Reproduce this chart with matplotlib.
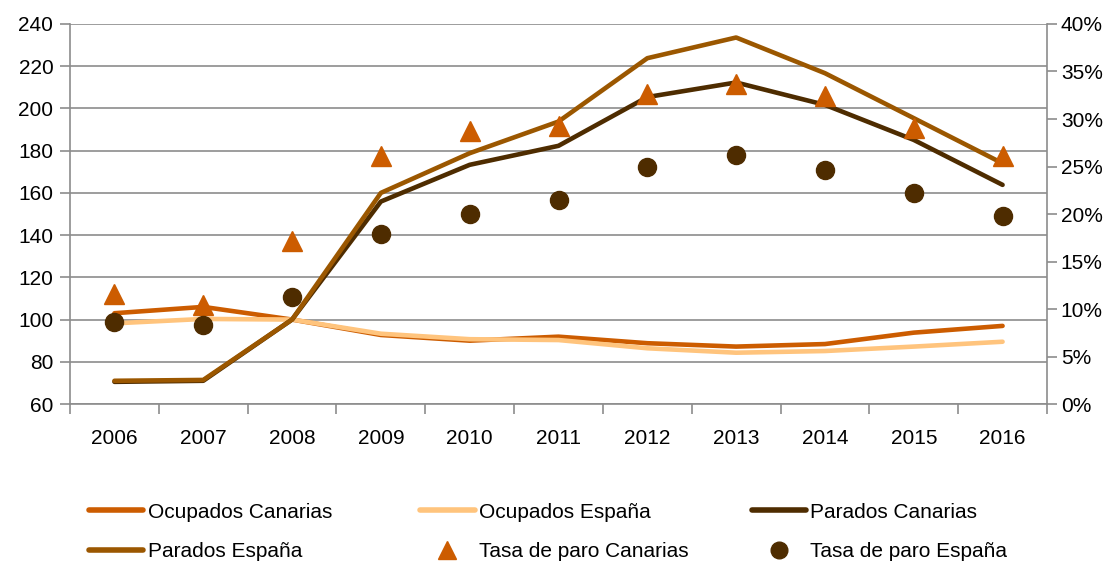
import matplotlib
matplotlib.use("Agg")
import matplotlib.pyplot as plt
from matplotlib.lines import Line2D
from matplotlib.ticker import FuncFormatter, MultipleLocator

plt.rcParams["font.family"] = ["Liberation Sans", "DejaVu Sans"]

years = ["2006", "2007", "2008", "2009", "2010", "2011",
         "2012", "2013", "2014", "2015", "2016"]

# indices, 2008 = 100
ocupados_canarias = [103.0, 106.0, 100.0, 92.7, 90.0, 91.9, 88.8, 87.2, 88.4, 93.8, 97.0]
ocupados_espana   = [98.2, 100.3, 100.0, 93.3, 90.7, 90.3, 86.4, 84.3, 85.1, 87.2, 89.5]
parados_canarias  = [70.5, 71.0, 100.0, 155.9, 173.3, 182.3, 205.4, 212.3, 201.7, 185.1, 163.8]
parados_espana    = [71.0, 71.4, 100.0, 160.0, 178.8, 193.8, 223.8, 233.6, 216.7, 195.4, 174.0]

# unemployment rate, %
tasa_canarias = [11.6, 10.4, 17.2, 26.1, 28.7, 29.3, 32.6, 33.7, 32.4, 29.1, 26.1]
tasa_espana   = [8.6, 8.3, 11.3, 17.9, 20.0, 21.5, 24.9, 26.2, 24.6, 22.2, 19.8]

C_OC = "#CC5C00"
C_OE = "#FFC47D"
C_PC = "#4E2C00"
C_PE = "#9B5700"
GRID = "#8C8C8C"
FS = 15

fig, ax = plt.subplots(figsize=(11.15, 5.66), dpi=100)
fig.subplots_adjust(left=0.0628, right=0.939, top=0.9576, bottom=0.2862)

x = range(len(years))
ax.plot(x, ocupados_canarias, color=C_OC, lw=3.3, solid_capstyle="round", zorder=3)
ax.plot(x, ocupados_espana, color=C_OE, lw=3.3, solid_capstyle="round", zorder=3)
ax.plot(x, parados_canarias, color=C_PC, lw=3.3, solid_capstyle="round", zorder=3)
ax.plot(x, parados_espana, color=C_PE, lw=3.3, solid_capstyle="round", zorder=3)

ax.set_xlim(-0.5, len(years) - 0.5)
ax.set_ylim(60, 240)
ax.yaxis.set_major_locator(MultipleLocator(20))
ax.grid(axis="y", color=GRID, lw=1.2, zorder=0)
ax.set_axisbelow(True)

ax.set_xticks(list(x))
ax.set_xticklabels(years, fontsize=FS)
ax.set_xticks([i - 0.5 for i in range(len(years) + 1)], minor=True)
ax.tick_params(axis="x", which="major", length=0, pad=18)
ax.tick_params(axis="x", which="minor", length=7, width=1.2, color=GRID)
ax.tick_params(axis="y", labelsize=FS, length=7, width=1.2, color=GRID, pad=5)

for s in ["top", "right"]:
    ax.spines[s].set_visible(False)
for s in ["left", "bottom"]:
    ax.spines[s].set_color(GRID)
    ax.spines[s].set_linewidth(1.2)

ax2 = ax.twinx()
ax2.set_ylim(0, 40)
ax2.yaxis.set_major_locator(MultipleLocator(5))
ax2.yaxis.set_major_formatter(FuncFormatter(lambda v, p: f"{v:.0f}%"))
ax2.tick_params(axis="y", labelsize=FS, length=7, width=1.2, color=GRID, pad=3)
ax2.plot(x, tasa_canarias, ls="none", marker="^", ms=15, color=C_OC, zorder=4)
ax2.plot(x, tasa_espana, ls="none", marker="o", ms=13, color=C_PC, zorder=4)
for s in ["top", "left", "bottom"]:
    ax2.spines[s].set_visible(False)
ax2.spines["right"].set_color(GRID)
ax2.spines["right"].set_linewidth(1.2)

# legend: three columns placed separately like the original
columns = [
    (0.080, [("Ocupados Canarias", dict(color=C_OC, lw=4)),
             ("Parados España", dict(color=C_PE, lw=4))]),
    (0.377, [("Ocupados España", dict(color=C_OE, lw=4)),
             ("Tasa de paro Canarias", dict(color=C_OC, ls="none", marker="^", ms=13))]),
    (0.674, [("Parados Canarias", dict(color=C_PC, lw=4)),
             ("Tasa de paro España", dict(color=C_PC, ls="none", marker="o", ms=12))]),
]
for xpos, items in columns:
    handles = [Line2D([], [], solid_capstyle="round", **kw) for _, kw in items]
    labels = [lab for lab, _ in items]
    fig.legend(handles, labels, loc="upper left", bbox_to_anchor=(xpos, 0.112),
               frameon=False, fontsize=FS, handlelength=2.6, handletextpad=0.2,
               labelspacing=1.0, borderaxespad=0, borderpad=0)

plt.savefig("out.png", dpi=100)
